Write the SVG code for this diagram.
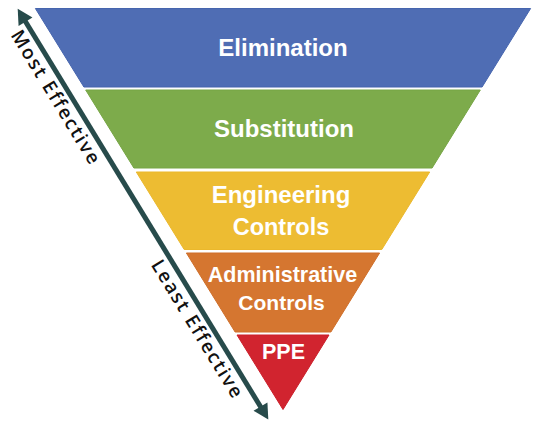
<svg xmlns="http://www.w3.org/2000/svg" width="541" height="426" viewBox="0 0 541 426">
  <style>
    .band { stroke-width: 1; stroke-linejoin: miter; }
    .lbl { font-family: "Liberation Sans", Arial, sans-serif; font-weight: bold; fill: #ffffff; text-anchor: middle; }
    .side { font-family: "Open Sans", "Liberation Sans", sans-serif; font-weight: 600; font-size: 19px; letter-spacing: 1.8px; fill: #111111; }
  </style>
  <defs>
    <marker id="head" markerUnits="userSpaceOnUse" markerWidth="20" markerHeight="20" viewBox="-3 -8 16 16" refX="0" refY="0" orient="auto-start-reverse">
      <path d="M-2,-6.5 L10,0 L-2,6.5 Z" fill="#274B4B"/>
    </marker>
  </defs>
  <rect width="541" height="426" fill="#ffffff"/>

  <g id="elimination">
    <polygon class="band" points="35.4,8.5 530.6,8.5 482.1,87 83.9,87" fill="#4F6DB4" stroke="#4665AE"/>
    <text class="lbl" x="283" y="56" font-size="24">Elimination</text>
  </g>
  <g id="substitution">
    <polygon class="band" points="85.7,90 480.3,90 432.1,168 133.9,168" fill="#7DAB4B" stroke="#76A544"/>
    <text class="lbl" x="284" y="137" font-size="24">Substitution</text>
  </g>
  <g id="engineering">
    <polygon class="band" points="136.3,172 429.7,172 381.8,249.5 184.2,249.5" fill="#EDBC32" stroke="#EBB82C"/>
    <text class="lbl" x="281" y="203" font-size="24">Engineering</text>
    <text class="lbl" x="281" y="235" font-size="23.5">Controls</text>
  </g>
  <g id="administrative">
    <polygon class="band" points="186.4,253 379.6,253 330.9,332 235.1,332" fill="#D57630" stroke="#CF6F2A"/>
    <text class="lbl" x="282.5" y="282" font-size="21.5">Administrative</text>
    <text class="lbl" x="281.5" y="310" font-size="21">Controls</text>
  </g>
  <g id="ppe">
    <polygon class="band" points="237,335 329,335 283,409.5" fill="#D1242F" stroke="#CB1F2A"/>
    <text class="lbl" x="283.5" y="359" font-size="21.5">PPE</text>
  </g>

  <g id="connectors" transform="translate(19,11) rotate(58.6)">
    <line x1="10" y1="0" x2="466" y2="0" stroke="#274B4B" stroke-width="5" marker-start="url(#head)" marker-end="url(#head)"/>
  </g>
  <g id="labels" transform="translate(19,11) rotate(58.6)">
    <text class="side" x="16" y="20">Most Effective</text>
    <text class="side" x="285" y="20">Least Effective</text>
  </g>
</svg>
